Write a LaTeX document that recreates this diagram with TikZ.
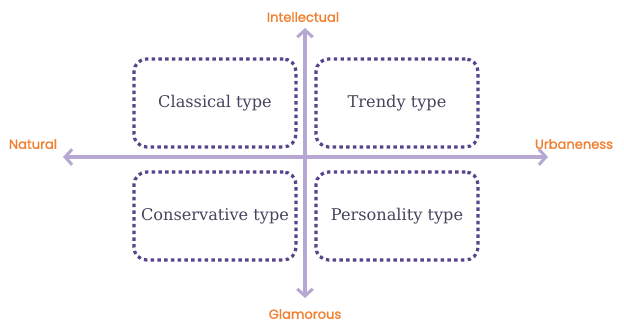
\documentclass[tikz,border=0pt]{standalone}
\usepackage{fontspec}
\setmainfont{DejaVu Serif}
\newfontfamily\labelfont[FakeBold=1.4]{Poppins}
\usetikzlibrary{arrows.meta}
\definecolor{axiscol}{RGB}{182,168,210}
\definecolor{dotcol}{RGB}{88,68,138}
\definecolor{typecol}{RGB}{72,66,92}
\definecolor{labcol}{RGB}{240,128,48}
\tikzset{
    axis/.style={draw=axiscol, line width=2.2pt, -{Straight Barb[length=5pt,width=11pt]}},
    typebox/.style={draw=dotcol, line width=2.3pt, dash pattern=on 2.4pt off 2.4pt, rounded corners=9pt,
        minimum width=4.05cm, minimum height=2.2cm, text=typecol, font=\fontsize{11.5}{13}\selectfont},
    axislabel/.style={text=labcol, font=\labelfont\fontsize{9.3}{11}\selectfont, inner sep=0pt}
}

\begin{document}
\begin{tikzpicture}[x=0.025cm, y=-0.025cm]
    \useasboundingbox (0,0) rectangle (624,322);
    \coordinate (W) at (63,157);
    \coordinate (E) at (548,157);
    \coordinate (S) at (305,298);
    \coordinate (N) at (305,28);
    \draw[axis] (305,157)--(W);
    \draw[axis] (305,157)--(E);
    \draw[axis] (305,157)--(N);
    \draw[axis] (305,157)--(S);
    \node[typebox] (C) at (215,103) {Classical type};
    \node[typebox] (T) at (397,103) {Trendy type};
    \node[typebox] (V) at (215,216) {Conservative type};
    \node[typebox] (P) at (397,216) {Personality type};
    \node[axislabel] (I) at (303,17) {Intellectual};
    \node[axislabel] (G) at (305,314) {Glamorous};
    \node[axislabel] (L) at (33,144) {Natural};
    \node[axislabel] (U) at (574,144) {Urbaneness};
\end{tikzpicture}
\end{document}
